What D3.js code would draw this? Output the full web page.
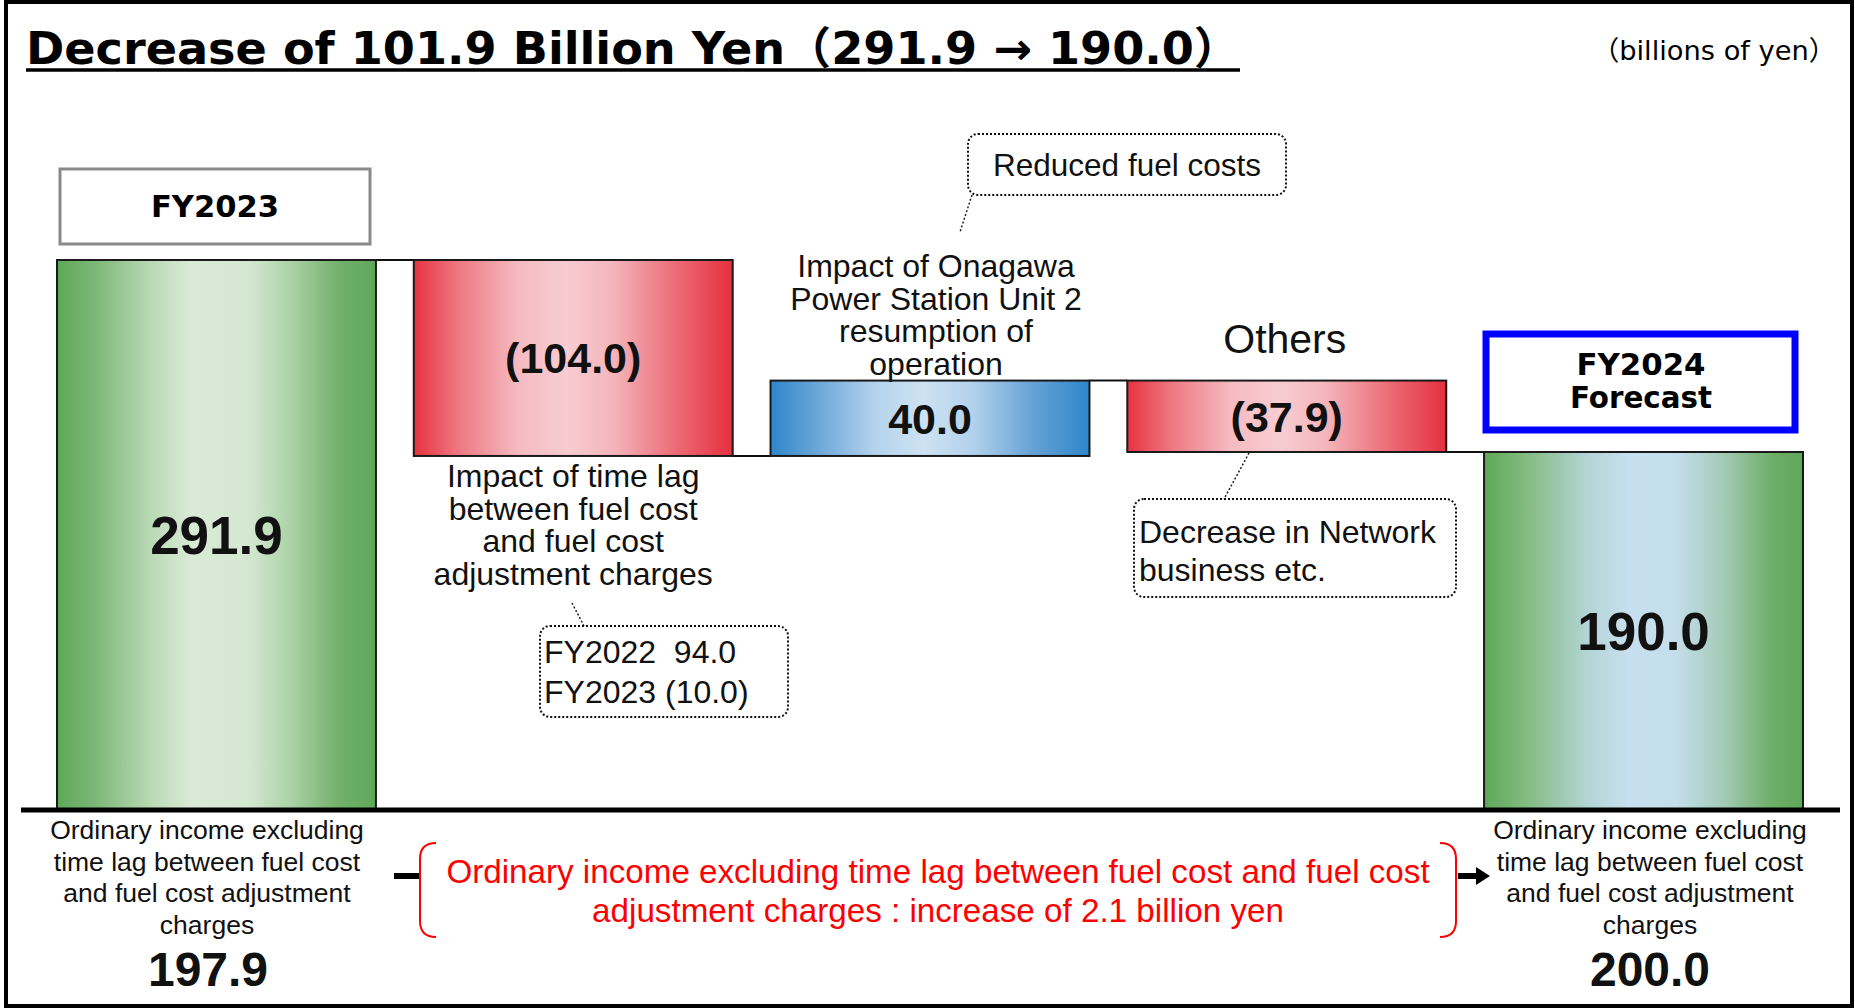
<!DOCTYPE html>
<html>
<head>
<meta charset="utf-8">
<script src="https://cdn.jsdelivr.net/npm/d3@7"></script>
<style>
  html, body { margin: 0; padding: 0; background: #fff; }
  text { white-space: pre; }
</style>
</head>
<body>
<div id="container"></div>
<script>
// chart data
const categories = ["FY2023", "Time lag", "Onagawa Unit 2", "Others", "FY2024 Forecast"];
const values = [291.9, -104.0, 40.0, -37.9, 190.0];
const isTotal = [true, false, false, false, true];
const valueLabels = ["291.9", "(104.0)", "40.0", "(37.9)", "190.0"];

// texts
const titleText = "Decrease of 101.9 Billion Yen（291.9 → 190.0）";
const unitText = "（billions of yen）";
const timeLagLines = ["Impact of time lag", "between fuel cost", "and fuel cost", "adjustment charges"];
const onagawaLines = ["Impact of Onagawa", "Power Station Unit 2", "resumption of", "operation"];
const othersLabel = "Others";
const fuelNote = "Reduced fuel costs";
const lagNoteLines = ["FY2022  94.0", "FY2023 (10.0)"];
const networkNoteLines = ["Decrease in Network", "business etc."];
const exclLines = ["Ordinary income excluding", "time lag between fuel cost", "and fuel cost adjustment", "charges"];
const exclValues = ["197.9", "200.0"];
const redLines = ["Ordinary income excluding time lag between fuel cost and fuel cost",
                  "adjustment charges : increase of 2.1 billion yen"];

const W = 1855, H = 1008;
const sans = "'Liberation Sans', Arial, sans-serif";
const gothic = "'DejaVu Sans', 'Noto Sans CJK JP', sans-serif";

const svg = d3.select("#container").append("svg")
  .attr("width", W).attr("height", H)
  .style("display", "block");

// gradients
const defs = svg.append("defs");
function gradient(id, stops) {
  const g = defs.append("linearGradient").attr("id", id)
    .attr("x1", "0%").attr("x2", "100%").attr("y1", "0%").attr("y2", "0%");
  stops.forEach(s => g.append("stop").attr("offset", s[0]).attr("stop-color", s[1]));
}
gradient("gTotal", [[0, "#5ea859"], [0.12, "#7cb777"], [0.3, "#bcdab7"], [0.42, "#d9eAd6"],
  [0.6, "#d5e8d2"], [0.74, "#a9d1a4"], [0.88, "#72b16c"], [1, "#5ea859"]]);
gradient("gForecast", [[0, "#5ea859"], [0.12, "#80b97b"], [0.32, "#b2d4d4"], [0.45, "#c7dfee"],
  [0.6, "#c5deec"], [0.75, "#a3cbb6"], [0.9, "#6eaf69"], [1, "#5ea859"]]);
gradient("gDown", [[0, "#e6323f"], [0.14, "#ee7882"], [0.33, "#f5bcc2"], [0.48, "#f8ccd1"],
  [0.62, "#f4b6bc"], [0.82, "#ec6c77"], [1, "#e5303e"]]);
gradient("gUp", [[0, "#2f86c9"], [0.14, "#68a5d8"], [0.33, "#b5d3ed"], [0.48, "#cde2f2"],
  [0.63, "#b4d2ec"], [0.83, "#62a1d5"], [1, "#2f86c9"]]);

// outer frame
svg.append("rect").attr("x", 6).attr("y", 2).attr("width", W - 9).attr("height", H - 4)
  .attr("fill", "none").attr("stroke", "#000").attr("stroke-width", 4);

// title
svg.append("text").attr("x", 26).attr("y", 64)
  .attr("font-family", gothic).attr("font-weight", "bold").attr("font-size", 44)
  .attr("textLength", 1214).attr("lengthAdjust", "spacingAndGlyphs")
  .text(titleText);
svg.append("line").attr("x1", 26).attr("x2", 1240).attr("y1", 70).attr("y2", 70)
  .attr("stroke", "#000").attr("stroke-width", 3.5);
svg.append("text").attr("x", 1592).attr("y", 60)
  .attr("font-family", gothic).attr("font-size", 27)
  .attr("textLength", 244).attr("lengthAdjust", "spacingAndGlyphs")
  .text(unitText);

// scales
const x = d3.scaleBand().domain(categories).range([57, 1803]).paddingInner(0.106);
const y = d3.scaleLinear().domain([0, 300]).range([810, 810 - 550 * 300 / 291.9]);
const bw = x.bandwidth();

// waterfall steps
let running = 0;
const bars = values.map((v, i) => {
  let start, end;
  if (isTotal[i]) { start = 0; end = v; }
  else { start = running; end = running + v; }
  running = end;
  return { cat: categories[i], value: v, start, end, total: isTotal[i], label: valueLabels[i], i };
});

function fillFor(d) {
  if (d.total) return d.i === 0 ? "url(#gTotal)" : "url(#gForecast)";
  return d.value < 0 ? "url(#gDown)" : "url(#gUp)";
}

// connectors
svg.selectAll("line.conn").data(bars.slice(0, -1)).enter().append("line")
  .attr("class", "conn")
  .attr("x1", d => x(d.cat) + bw)
  .attr("x2", (d, i) => x(categories[i + 1]))
  .attr("y1", d => y(d.end)).attr("y2", d => y(d.end))
  .attr("stroke", "#111").attr("stroke-width", 2);

svg.selectAll("rect.bar").data(bars).enter().append("rect")
  .attr("class", "bar")
  .attr("x", d => x(d.cat))
  .attr("y", d => y(Math.max(d.start, d.end)))
  .attr("width", bw)
  .attr("height", d => Math.abs(y(d.start) - y(d.end)))
  .attr("fill", fillFor)
  .attr("stroke", "#1a1a1a").attr("stroke-width", 2);

// value labels
svg.selectAll("text.val").data(bars).enter().append("text")
  .attr("class", "val")
  .attr("x", d => x(d.cat) + bw / 2)
  .attr("y", d => (y(d.start) + y(d.end)) / 2)
  .attr("dy", "0.36em")
  .attr("text-anchor", "middle")
  .attr("font-family", sans).attr("font-weight", "bold")
  .attr("font-size", d => d.total ? 53 : 43)
  .attr("fill", "#111")
  .text(d => d.label);

// base line
svg.append("line").attr("x1", 21).attr("x2", 1840).attr("y1", 810).attr("y2", 810)
  .attr("stroke", "#000").attr("stroke-width", 5);

// category boxes
svg.append("rect").attr("x", 60).attr("y", 169).attr("width", 310).attr("height", 75)
  .attr("fill", "#fff").attr("stroke", "#8a8a8a").attr("stroke-width", 3);
svg.append("text").attr("x", 215).attr("y", 217).attr("text-anchor", "middle")
  .attr("font-family", gothic).attr("font-weight", "bold").attr("font-size", 31)
  .attr("textLength", 128).attr("lengthAdjust", "spacingAndGlyphs")
  .text("FY2023");

svg.append("rect").attr("x", 1486).attr("y", 334).attr("width", 309).attr("height", 96)
  .attr("fill", "#fff").attr("stroke", "#0000ff").attr("stroke-width", 7);
svg.append("text").attr("x", 1641).attr("y", 375).attr("text-anchor", "middle")
  .attr("font-family", gothic).attr("font-weight", "bold").attr("font-size", 31)
  .attr("textLength", 129).attr("lengthAdjust", "spacingAndGlyphs")
  .text("FY2024");
svg.append("text").attr("x", 1641).attr("y", 408).attr("text-anchor", "middle")
  .attr("font-family", gothic).attr("font-weight", "bold").attr("font-size", 31)
  .attr("textLength", 142).attr("lengthAdjust", "spacingAndGlyphs")
  .text("Forecast");

// multi-line helper
function lines(arr, cx, y0, lh, size, anchor, color) {
  const t = svg.append("text").attr("font-family", sans).attr("font-size", size)
    .attr("text-anchor", anchor || "middle").attr("fill", color || "#111");
  arr.forEach((s, i) => t.append("tspan").attr("x", cx).attr("y", y0 + i * lh).text(s));
  return t;
}

// step descriptions
lines(timeLagLines, x(categories[1]) + bw / 2, 487, 32.7, 32);
lines(onagawaLines, x(categories[2]) + bw / 2 + 6, 277, 32.7, 32);
lines([othersLabel], x(categories[3]) + bw / 2 - 2, 353, 0, 41);

// dotted callouts
function callout(bx, by, bwid, bh, lx1, ly1, lx2, ly2) {
  svg.append("line").attr("x1", lx1).attr("y1", ly1).attr("x2", lx2).attr("y2", ly2)
    .attr("stroke", "#222").attr("stroke-width", 1.5).attr("stroke-dasharray", "2,2");
  svg.append("rect").attr("x", bx).attr("y", by).attr("width", bwid).attr("height", bh)
    .attr("rx", 10).attr("fill", "#fff")
    .attr("stroke", "#111").attr("stroke-width", 2).attr("stroke-dasharray", "2,2");
}
callout(968, 134, 318, 61, 972, 195, 960, 232);
lines([fuelNote], 1127, 176, 0, 31.5);

callout(540, 626, 248, 91, 572, 603, 584, 626);
lines(lagNoteLines, 544, 663, 40, 32, "start");

callout(1134, 499, 322, 98, 1249, 453, 1224, 499);
lines(networkNoteLines, 1139, 543, 38, 32, "start");

// bottom annotations
lines(exclLines, 207, 839, 31.5, 26.5);
lines(exclLines, 1650, 839, 31.5, 26.5);
svg.selectAll("text.excl").data(exclValues).enter().append("text")
  .attr("class", "excl")
  .attr("x", (d, i) => i === 0 ? 208 : 1650)
  .attr("y", 986).attr("text-anchor", "middle")
  .attr("font-family", sans).attr("font-weight", "bold").attr("font-size", 48)
  .attr("fill", "#111")
  .text(d => d);

lines(redLines, 938, 883, 39, 33.2, "middle", "#ff0000");

// red brackets
svg.append("path").attr("d", "M436,843 Q420,843 420,859 L420,921 Q420,937 436,937")
  .attr("fill", "none").attr("stroke", "#ff0000").attr("stroke-width", 2);
svg.append("path").attr("d", "M1440,843 Q1456,843 1456,859 L1456,921 Q1456,937 1440,937")
  .attr("fill", "none").attr("stroke", "#ff0000").attr("stroke-width", 2);

// arrow ends
svg.append("line").attr("x1", 394).attr("x2", 419).attr("y1", 876).attr("y2", 876)
  .attr("stroke", "#000").attr("stroke-width", 6);
svg.append("line").attr("x1", 1458).attr("x2", 1478).attr("y1", 876).attr("y2", 876)
  .attr("stroke", "#000").attr("stroke-width", 6);
svg.append("path").attr("d", "M1476,867 L1490,876 L1476,885 Z").attr("fill", "#000");
</script>
</body>
</html>
